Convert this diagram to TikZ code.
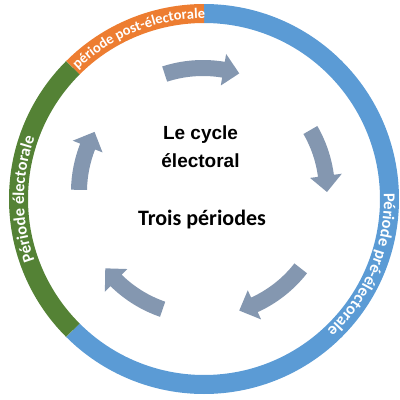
\documentclass[tikz,border=0pt]{standalone}
\usepackage{fontspec}
\usetikzlibrary{decorations.text}
\newfontfamily\carl{Carlito}
\newfontfamily\libs{Liberation Sans}
\definecolor{ringblue}{HTML}{5B9BD5}
\definecolor{ringorange}{HTML}{ED7D31}
\definecolor{ringgreen}{HTML}{548235}
\definecolor{arrowgrey}{HTML}{8497B0}
\begin{document}
\begin{tikzpicture}[x=1pt,y=1pt,
  band/.style={line width=19pt},
  cyclearrow/.style={fill=arrowgrey},
  ringtext/.style={decorate, decoration={text along path, text align=center, text={#1}}}]
\useasboundingbox (0,0) rectangle (400,400);
\coordinate (rc) at (204,201);
\coordinate (ac) at (203,208);
\begin{scope}[shift={(rc)}]
  \draw[band, ringblue] (90:185.5) arc[start angle=90, end angle=-135, radius=185.5];
  \draw[band, ringorange] (135:185.5) arc[start angle=135, end angle=90, radius=185.5];
  \draw[band, ringgreen] (225:185.5) arc[start angle=225, end angle=135, radius=185.5];
  \path[ringtext={|\carl\bfseries\fontsize{14.5}{16}\selectfont\color{white}|période post-électorale}]
    (136:180.5) arc[start angle=136, end angle=88, radius=180.5];
  \path[ringtext={|\carl\bfseries\fontsize{16.5}{18}\selectfont\color{white}|Période électorale}]
    (205:180) arc[start angle=205, end angle=155, radius=180];
  \path[ringtext={|\carl\bfseries\fontsize{16.5}{18}\selectfont\color{white}|Période pré-électorale}]
    (10:180) arc[start angle=10, end angle=-55, radius=180];
\end{scope}
\begin{scope}[shift={(ac)}]
  \foreach \a/\b in {108/73, 30/0, -38/-73, 251/218, 179/151}{
    \pgfmathsetmacro{\h}{\b+7.5}
    \fill[cyclearrow] (\a:132) arc[start angle=\a, end angle=\h, radius=132] -- (\h:140) -- (\b:124)
      -- (\h:108) -- (\h:116) arc[start angle=\h, end angle=\a, radius=116] -- cycle;
  }
\end{scope}
\node[font=\libs\bfseries\fontsize{19}{22}\selectfont, anchor=base] (title1) at (200.5,260) {Le cycle};
\node[font=\libs\bfseries\fontsize{19}{22}\selectfont, anchor=base] (title2) at (200.5,232) {électoral};
\node[font=\carl\bfseries\fontsize{22}{26}\selectfont, anchor=base] (sub) at (202,175) {Trois périodes};
\end{tikzpicture}
\end{document}
